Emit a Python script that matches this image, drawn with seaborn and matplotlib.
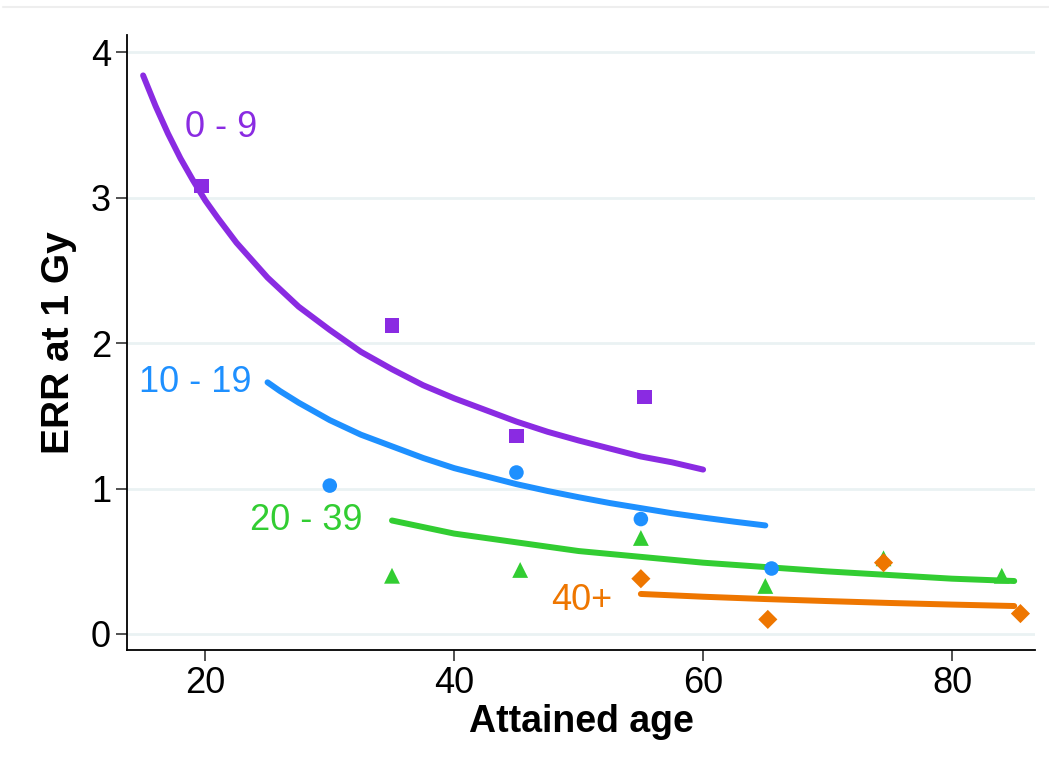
import pandas as pd
import numpy as np
import matplotlib.pyplot as plt
import seaborn as sns

# observed points by age-at-exposure group
ages_0_9 = [19.7, 35, 45, 55.3]
err_0_9 = [3.08, 2.12, 1.36, 1.63]
ages_10_19 = [30, 45, 55, 65.5]
err_10_19 = [1.02, 1.11, 0.79, 0.45]
ages_20_39 = [35, 45.3, 55, 65, 74.5, 84]
err_20_39 = [0.40, 0.44, 0.66, 0.33, 0.52, 0.40]
ages_40p = [55, 65.2, 74.5, 85.5]
err_40p = [0.38, 0.10, 0.49, 0.14]

# fitted curves
fit_age_0_9 = [15, 16, 17, 18, 19, 20, 21, 22.5, 25, 27.5, 30, 32.5, 35, 37.5, 40, 42.5,
               45, 47.5, 50, 52.5, 55, 57.5, 60]
fit_err_0_9 = [3.84, 3.63, 3.44, 3.27, 3.12, 2.98, 2.86, 2.69, 2.45, 2.25, 2.09, 1.94, 1.82,
               1.71, 1.62, 1.54, 1.46, 1.39, 1.33, 1.275, 1.22, 1.18, 1.13]
fit_age_10_19 = [25, 26, 27.5, 30, 32.5, 35, 37.5, 40, 42.5, 45, 47.5, 50, 52.5, 55, 57.5,
                 60, 62.5, 65]
fit_err_10_19 = [1.73, 1.67, 1.59, 1.47, 1.37, 1.29, 1.21, 1.14, 1.085, 1.03, 0.983, 0.94,
                 0.90, 0.865, 0.83, 0.80, 0.772, 0.746]
fit_age_20_39 = [35, 37.5, 40, 42.5, 45, 50, 55, 60, 65, 70, 75, 80, 85]
fit_err_20_39 = [0.78, 0.735, 0.69, 0.66, 0.63, 0.57, 0.53, 0.49, 0.46, 0.43, 0.405, 0.38, 0.364]
fit_age_40p = [55, 60, 65, 70, 75, 80, 85]
fit_err_40p = [0.275, 0.256, 0.24, 0.226, 0.213, 0.202, 0.192]

groups = ['0 - 9', '10 - 19', '20 - 39', '40+']
colors = ['#8A2BE2', '#1E90FF', '#32CD32', '#EE7600']
markers = ['s', 'o', '^', 'D']
sizes = [110, 110, 130, 95]
label_pos = [(18.4, 3.48), (14.7, 1.73), (23.6, 0.78), (47.8, 0.23)]

pts = [(ages_0_9, err_0_9), (ages_10_19, err_10_19), (ages_20_39, err_20_39), (ages_40p, err_40p)]
fits = [(fit_age_0_9, fit_err_0_9), (fit_age_10_19, fit_err_10_19),
        (fit_age_20_39, fit_err_20_39), (fit_age_40p, fit_err_40p)]

sns.set_style('ticks')
plt.rcParams['font.family'] = ['Liberation Sans', 'DejaVu Sans']

fig = plt.figure(figsize=(10.49, 7.71), dpi=100)
ax = fig.add_axes([0.121, 0.157, 0.866, 0.798])

for y in [0, 1, 2, 3, 4]:
    ax.axhline(y, color='#EAF2F3', lw=2, zorder=0)

for i, g in enumerate(groups):
    fdf = pd.DataFrame({'age': fits[i][0], 'err': fits[i][1]})
    sns.lineplot(data=fdf, x='age', y='err', color=colors[i], lw=4.3, ax=ax, zorder=2)
    pdf = pd.DataFrame({'age': pts[i][0], 'err': pts[i][1]})
    sns.scatterplot(data=pdf, x='age', y='err', color=colors[i], marker=markers[i],
                    s=sizes[i], edgecolor='none', ax=ax, zorder=3)
    ax.text(label_pos[i][0], label_pos[i][1], g, color=colors[i], fontsize=26,
            ha='left', va='center')

ax.set_xlim(13.7, 86.7)
ax.set_ylim(-0.11, 4.12)
ax.set_xticks([20, 40, 60, 80])
ax.set_yticks([0, 1, 2, 3, 4])
ax.tick_params(labelsize=26, length=8, width=1.2, color='#333333', labelcolor='black')
ax.set_xlabel('Attained age', fontsize=27, fontweight='bold', labelpad=2, color='black')
ax.set_ylabel('ERR at 1 Gy', fontsize=28, fontweight='bold', labelpad=10, color='black')
sns.despine(ax=ax)
for s in ['left', 'bottom']:
    ax.spines[s].set_linewidth(1.3)
    ax.spines[s].set_color('black')

fig.add_artist(plt.Line2D([0.003, 1], [0.991, 0.991], color='#EEEEEE', lw=1.5))

plt.savefig('out.png', dpi=100)
